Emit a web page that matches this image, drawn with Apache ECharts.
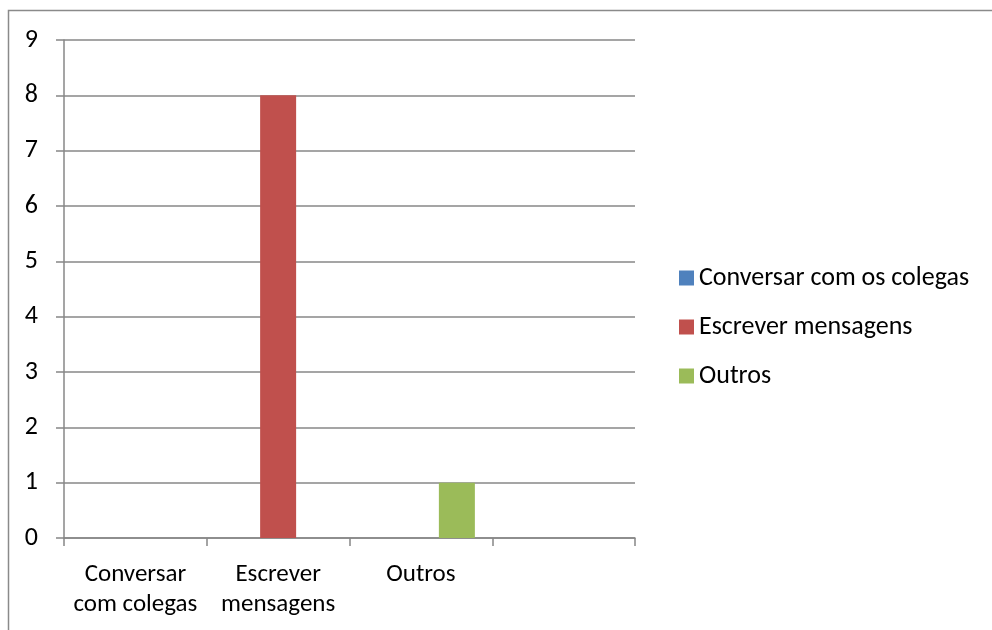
<!DOCTYPE html>
<html>
<head>
<meta charset="utf-8">
<script src="https://cdn.jsdelivr.net/npm/echarts@6/dist/echarts.min.js"></script>
<style>
  html, body { margin: 0; padding: 0; background: #fff; }
  #chart { width: 992px; height: 630px; }
</style>
</head>
<body>
<div id="chart"></div>
<script>
// Categories along the x axis (last slot intentionally blank)
const categories = ['Conversar\ncom colegas', 'Escrever\nmensagens', 'Outros', ''];

// One series per activity
const seriesNames = ['Conversar com os colegas', 'Escrever mensagens', 'Outros'];
const conversarValues = [0, null, null, null];
const escreverValues = [null, 8, null, null];
const outrosValues = [null, null, 1, null];

const seriesColors = ['#4F81BD', '#C0504D', '#9BBB59'];
const yTicks = { min: 0, max: 9, interval: 1 };

const FONT = 'Carlito, Lato, sans-serif';
const GRID_COLOR = '#878787';

const chart = echarts.init(document.getElementById('chart'), null, { renderer: 'canvas' });

const valueSets = [conversarValues, escreverValues, outrosValues];

chart.setOption({
  animation: false,
  backgroundColor: '#ffffff',
  graphic: [{
    type: 'rect',
    silent: true,
    shape: { x: 8.5, y: 10.5, width: 1200, height: 800 },
    style: { fill: 'none', stroke: '#8a8a8a', lineWidth: 1.5 }
  }],
  grid: { left: 64, right: 357, top: 40, bottom: 92, containLabel: false },
  legend: {
    orient: 'vertical',
    left: 679,
    top: 265,
    padding: 0,
    itemWidth: 15,
    itemHeight: 15,
    itemGap: 23,
    icon: 'rect',
    textStyle: { fontFamily: FONT, fontSize: 26, lineHeight: 26, color: '#000' },
    data: seriesNames
  },
  xAxis: {
    type: 'category',
    data: categories,
    axisLine: { show: true, lineStyle: { color: GRID_COLOR, width: 1.5 } },
    axisTick: { show: true, length: 8, alignWithLabel: false, lineStyle: { color: GRID_COLOR, width: 1.5 } },
    axisLabel: {
      interval: 0,
      margin: 22,
      fontFamily: FONT,
      fontSize: 25,
      lineHeight: 30,
      color: '#000'
    },
    splitLine: { show: false }
  },
  yAxis: {
    type: 'value',
    min: yTicks.min,
    max: yTicks.max,
    interval: yTicks.interval,
    axisLine: { show: true, lineStyle: { color: GRID_COLOR, width: 1.5 } },
    axisTick: { show: true, length: 8, lineStyle: { color: GRID_COLOR, width: 1.5 } },
    axisLabel: { margin: 26, fontFamily: FONT, fontSize: 26, color: '#000' },
    splitLine: { show: true, lineStyle: { color: GRID_COLOR, width: 1.5 } }
  },
  series: seriesNames.map((name, i) => ({
    name: name,
    type: 'bar',
    data: valueSets[i],
    barWidth: 36,
    barGap: '0%',
    itemStyle: { color: seriesColors[i] }
  }))
});
</script>
</body>
</html>
